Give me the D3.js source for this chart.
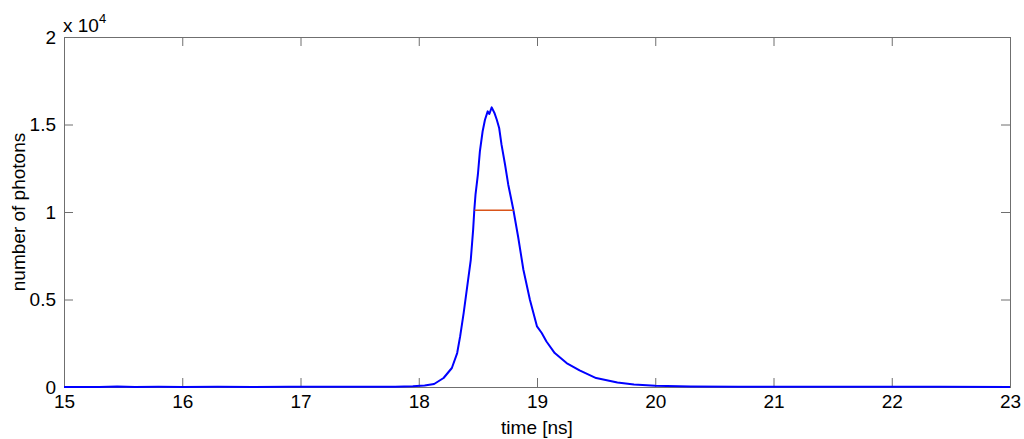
<!DOCTYPE html>
<html>
<head>
<meta charset="utf-8">
<script src="https://cdn.jsdelivr.net/npm/d3@7/dist/d3.min.js"></script>
<style>
  html, body { margin: 0; padding: 0; background: #fff; }
  svg { display: block; }
  text { font-family: "Liberation Sans", Arial, sans-serif; fill: #000; }
</style>
</head>
<body>
<svg id="chart" width="1024" height="439"></svg>
<script>
// Photon arrival histogram (time in ns, counts)
const time = [15.0, 15.3, 15.45, 15.6, 15.8, 16.0, 16.3, 16.6, 16.9, 17.2, 17.5, 17.8, 17.95, 18.05,
  18.13, 18.21, 18.28, 18.325, 18.35, 18.38, 18.41, 18.44, 18.46, 18.47, 18.48, 18.50, 18.517,
  18.54, 18.56, 18.583, 18.597, 18.617, 18.64, 18.66, 18.68, 18.70, 18.73, 18.757, 18.78, 18.80,
  18.84, 18.885, 18.94, 19.0, 19.04, 19.08, 19.15, 19.25, 19.36, 19.50, 19.68, 19.82, 20.0, 20.3,
  20.7, 21.2, 21.8, 22.4, 23.0];
const photons = [0, 5, 30, 5, 10, 5, 8, 5, 10, 8, 10, 15, 40, 80,
  170, 515, 1085, 1940, 2890, 4230, 5750, 7270, 8990, 10130, 10990, 12130, 13460,
  14600, 15275, 15750, 15600, 15977, 15660, 15270, 14800, 13850, 12700, 11560, 10800, 10130,
  8600, 6700, 4990, 3460, 3085, 2600, 1940, 1370, 950, 510, 260, 140, 70, 35,
  20, 10, 8, 10, 5];

// Width marker drawn across the peak
const markerLevel = 10100;
const markerStart = 18.472;
const markerEnd = 18.802;

// Axis ticks
const xTicks = [15, 16, 17, 18, 19, 20, 21, 22, 23];
const yTicks = [0, 5000, 10000, 15000, 20000];
const yTickLabels = ["0", "0.5", "1", "1.5", "2"];

const svg = d3.select("#chart");
const plotLeft = 64, plotRight = 1010, plotTop = 37, plotBottom = 387;

const x = d3.scaleLinear().domain([15, 23]).range([plotLeft, plotRight]);
const y = d3.scaleLinear().domain([0, 20000]).range([plotBottom, plotTop]);

const axisColor = "#6f6f6f";
const fontSize = "19px";

function styleAxis(g) {
  g.select(".domain").remove();
  g.selectAll(".tick line").attr("stroke", axisColor).attr("stroke-width", 1);
  g.selectAll(".tick text").style("font-size", fontSize)
    .style("font-family", "'Liberation Sans', Arial, sans-serif").attr("fill", "#000");
}

// bottom axis
svg.append("g")
  .attr("transform", `translate(0,${plotBottom})`)
  .call(d3.axisBottom(x).tickValues(xTicks).tickSize(-9).tickSizeOuter(0).tickPadding(8)
    .tickFormat(d3.format("d")))
  .call(styleAxis);

// top axis (ticks only)
svg.append("g")
  .attr("transform", `translate(0,${plotTop})`)
  .call(d3.axisTop(x).tickValues(xTicks).tickSize(-9).tickSizeOuter(0).tickFormat(""))
  .call(styleAxis);

// left axis
svg.append("g")
  .attr("transform", `translate(${plotLeft},0)`)
  .call(d3.axisLeft(y).tickValues(yTicks).tickSize(-9).tickSizeOuter(0).tickPadding(8)
    .tickFormat((d, i) => yTickLabels[i]))
  .call(styleAxis);

// right axis (ticks only)
svg.append("g")
  .attr("transform", `translate(${plotRight},0)`)
  .call(d3.axisRight(y).tickValues(yTicks).tickSize(-9).tickSizeOuter(0).tickFormat(""))
  .call(styleAxis);

// plot box
svg.append("rect")
  .attr("x", plotLeft + 0.5).attr("y", plotTop + 0.5)
  .attr("width", plotRight - plotLeft).attr("height", plotBottom - plotTop)
  .attr("fill", "none").attr("stroke", axisColor).attr("stroke-width", 1);

// exponent label
const expo = svg.append("text")
  .attr("x", plotLeft - 1).attr("y", 32)
  .style("font-size", fontSize);
expo.append("tspan").text("x 10");
expo.append("tspan").attr("dy", -9).style("font-size", "13px").text("4");

// photon count curve
const line = d3.line()
  .x((d, i) => x(time[i]))
  .y(d => y(d));

svg.append("path")
  .datum(photons)
  .attr("d", line)
  .attr("fill", "none")
  .attr("stroke", "#0000ff")
  .attr("stroke-width", 2)
  .attr("stroke-linejoin", "round");

// width marker
svg.append("line")
  .attr("x1", x(markerStart)).attr("x2", x(markerEnd))
  .attr("y1", y(markerLevel)).attr("y2", y(markerLevel))
  .attr("stroke", "#d95319").attr("stroke-width", 1.5);

// axis titles
svg.append("text")
  .attr("x", (plotLeft + plotRight) / 2).attr("y", 434)
  .attr("text-anchor", "middle")
  .style("font-size", fontSize)
  .text("time [ns]");

svg.append("text")
  .attr("transform", `translate(25,${(plotTop + plotBottom) / 2}) rotate(-90)`)
  .attr("text-anchor", "middle")
  .style("font-size", fontSize)
  .text("number of photons");
</script>
</body>
</html>
